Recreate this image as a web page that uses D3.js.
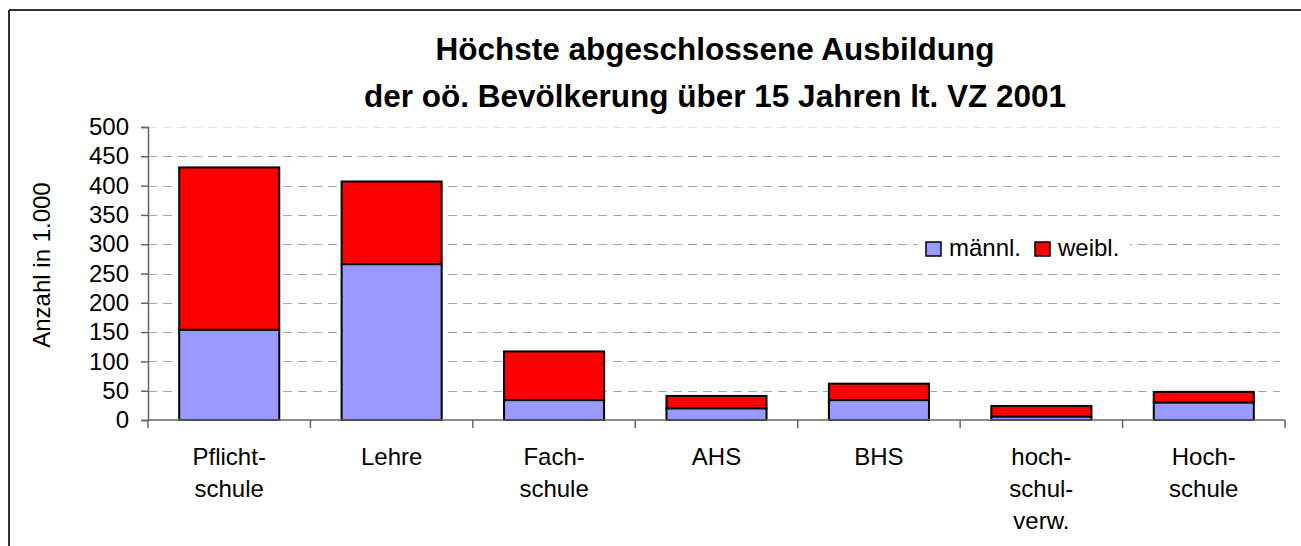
<!DOCTYPE html>
<html>
<head>
<meta charset="utf-8">
<script src="https://cdn.jsdelivr.net/npm/d3@7"></script>
<style>
  html, body { margin: 0; padding: 0; background: #fff; }
  svg { display: block; font-family: "Liberation Sans", Arial, sans-serif; }
</style>
</head>
<body>
<svg id="chart" width="1301" height="546"></svg>
<script>
const categories = [
  ["Pflicht-", "schule"],
  ["Lehre"],
  ["Fach-", "schule"],
  ["AHS"],
  ["BHS"],
  ["hoch-", "schul-", "verw."],
  ["Hoch-", "schule"]
];
const maennl = [154, 266, 34, 20, 34, 6, 30];
const weibl  = [277, 141, 83, 21, 28, 18, 18];
const seriesNames = ["männl.", "weibl."];
const seriesColors = ["#9999FF", "#FF0000"];
const yTicks = [0, 50, 100, 150, 200, 250, 300, 350, 400, 450, 500];
const titleLines = ["Höchste abgeschlossene Ausbildung", "der oö. Bevölkerung über 15 Jahren lt. VZ 2001"];
const yTitle = "Anzahl in 1.000";

const svg = d3.select("#chart");
const keys = categories.map((c, i) => "c" + i);

// outer frame
svg.append("line").attr("x1", 9).attr("x2", 1301).attr("y1", 10).attr("y2", 10)
  .attr("stroke", "#333").attr("stroke-width", 2);
svg.append("line").attr("x1", 9).attr("x2", 9).attr("y1", 10).attr("y2", 546)
  .attr("stroke", "#333").attr("stroke-width", 2);

// title
const title = svg.append("text").attr("text-anchor", "middle")
  .attr("font-weight", "bold").attr("font-size", 31.5).attr("fill", "#000");
titleLines.forEach((t, i) => {
  title.append("tspan").attr("x", 715).attr("y", 60 + i * 47).text(t);
});

const x = d3.scaleBand().domain(keys).range([148, 1285])
  .paddingInner(0.384).paddingOuter(0.192);
const y = d3.scaleLinear().domain([0, 500]).range([420, 127]);
const step = x.step();

// gridlines
svg.append("g").selectAll("line").data(yTicks.filter(d => d > 0)).join("line")
  .attr("x1", 148).attr("x2", 1280)
  .attr("y1", d => Math.round(y(d)) + 0.5).attr("y2", d => Math.round(y(d)) + 0.5)
  .attr("stroke", d => d === 500 ? "#e4e4e4" : "#a6a6a6")
  .attr("stroke-width", 1.2)
  .attr("stroke-dasharray", "9,6");

// stacked bars
const rows = keys.map((k, i) => ({ key: k, m: maennl[i], w: weibl[i] }));
const stack = d3.stack().keys(["m", "w"])(rows);
svg.append("g").selectAll("g").data(stack).join("g")
  .attr("fill", (d, i) => seriesColors[i])
  .selectAll("rect").data(d => d).join("rect")
  .attr("x", d => x(d.data.key))
  .attr("width", x.bandwidth())
  .attr("y", d => y(d[1]))
  .attr("height", d => y(d[0]) - y(d[1]))
  .attr("stroke", "#000").attr("stroke-width", 2);

// y axis
const yAxis = d3.axisLeft(y).tickValues(yTicks).tickSize(7).tickPadding(12);
const gy = svg.append("g").attr("transform", "translate(148,0)").call(yAxis);
gy.select(".domain").attr("stroke", "#666").attr("stroke-width", 1.5);
gy.selectAll(".tick line").attr("stroke", "#666").attr("stroke-width", 1.5);
gy.selectAll(".tick text").attr("font-size", 24).attr("fill", "#000")
  .attr("font-family", "Liberation Sans, Arial, sans-serif");

// x axis
svg.append("line").attr("x1", 148).attr("x2", 1285).attr("y1", 420).attr("y2", 420)
  .attr("stroke", "#666").attr("stroke-width", 1.5);
const bounds = d3.range(keys.length + 1).map(i => x.range()[0] + i * step);
svg.append("g").selectAll("line").data(bounds).join("line")
  .attr("x1", d => d).attr("x2", d => d).attr("y1", 420).attr("y2", 428)
  .attr("stroke", "#666").attr("stroke-width", 1.5);

// category labels
const lab = svg.append("g").selectAll("text").data(categories).join("text")
  .attr("text-anchor", "middle").attr("font-size", 24).attr("fill", "#000");
lab.each(function(lines, i) {
  const cx = x(keys[i]) + x.bandwidth() / 2;
  d3.select(this).selectAll("tspan").data(lines).join("tspan")
    .attr("x", cx).attr("y", (d, j) => 465 + j * 32).text(d => d);
});

// y title
svg.append("text").attr("transform", "translate(50,265) rotate(-90)")
  .attr("text-anchor", "middle").attr("font-size", 24).attr("fill", "#000")
  .text(yTitle);

// legend
const lg = svg.append("g");
lg.append("rect").attr("x", 917).attr("y", 232).attr("width", 213).attr("height", 30).attr("fill", "#fff");
const legX = [926, 1035];
seriesNames.forEach((n, i) => {
  lg.append("rect").attr("x", legX[i]).attr("y", 242).attr("width", 15).attr("height", 14)
    .attr("fill", seriesColors[i]).attr("stroke", "#000").attr("stroke-width", 1.5);
  lg.append("text").attr("x", legX[i] + 23).attr("y", 256).attr("font-size", 24)
    .attr("fill", "#000").text(n);
});
</script>
</body>
</html>
